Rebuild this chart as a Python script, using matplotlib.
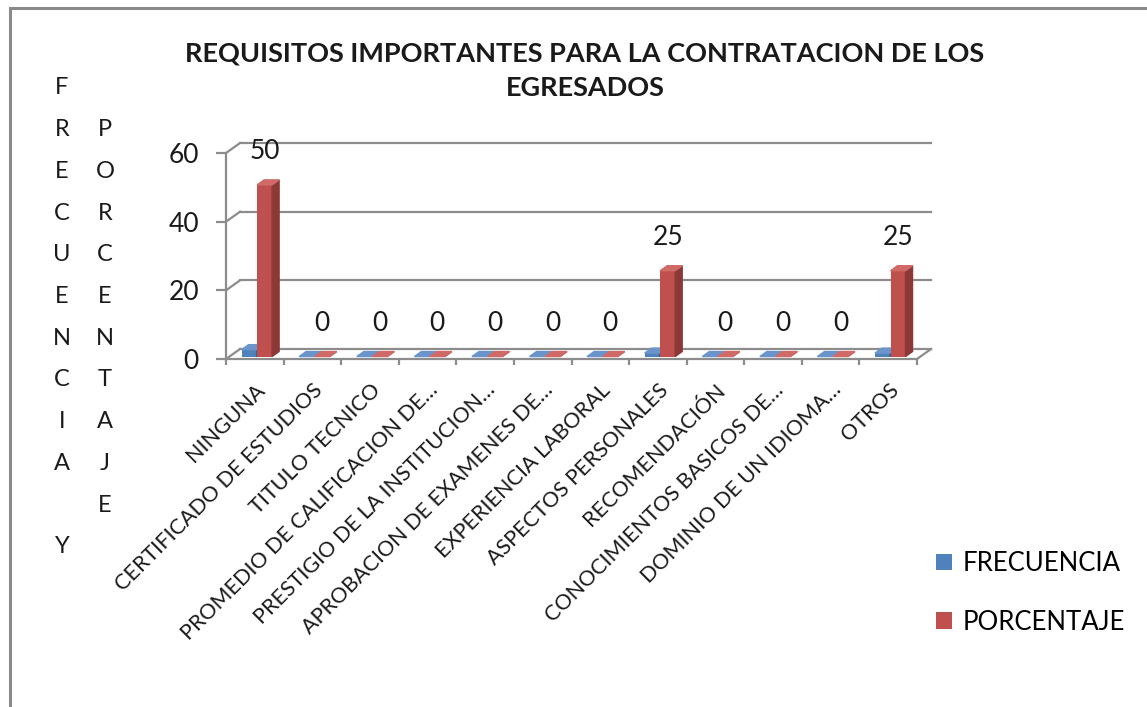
import numpy as np
import matplotlib
matplotlib.use("Agg")
from matplotlib import pyplot
from matplotlib.patches import Polygon, Rectangle

pyplot.rcParams['font.family'] = ['Lato', 'DejaVu Sans']

categories = ["NINGUNA",
              "CERTIFICADO DE ESTUDIOS",
              "TITULO TECNICO",
              "PROMEDIO DE CALIFICACION DE…",
              "PRESTIGIO DE LA INSTITUCION…",
              "APROBACION DE EXAMENES DE…",
              "EXPERIENCIA LABORAL",
              "ASPECTOS PERSONALES",
              "RECOMENDACIÓN",
              "CONOCIMIENTOS BASICOS DE…",
              "DOMINIO DE UN IDIOMA…",
              "OTROS"]
frecuencia = [2, 0, 0, 0, 0, 0, 0, 1, 0, 0, 0, 1]
porcentaje = [50, 0, 0, 0, 0, 0, 0, 25, 0, 0, 0, 25]
series_names = ["FRECUENCIA", "PORCENTAJE"]
yticks = [0, 20, 40, 60]

title = "REQUISITOS IMPORTANTES PARA LA CONTRATACION DE LOS\nEGRESADOS"

BLUE = "#4F81BD"
BLUE_SIDE = "#385D8A"
BLUE_TOP = "#6A95CC"
RED = "#C0504D"
RED_SIDE = "#8C3836"
RED_TOP = "#CF6A67"
GRID = "#8C8C8C"
TXT = "#1a1a1a"

# fake 3d: depth offset of the back wall in data units
DX = 0.243
DY = 2.9
D0, D1 = 0.25, 0.75  # bar front / back depth fraction
BAR_W = 0.26

W, H = 1147, 707
fig = pyplot.figure(figsize=(W / 100, H / 100), dpi=100)
ax = fig.add_axes([226 / W, (H - 359) / H, (917 - 226) / W, (359 - 153) / H])
ax.set_xlim(0, len(categories))
ax.set_ylim(0, 60)

n = len(categories)
x = np.arange(n)

# back wall gridlines + side diagonals
for v in yticks:
    ax.plot([DX, n + DX], [v + DY, v + DY], color=GRID, lw=1.6, clip_on=False, zorder=1)
    ax.plot([0, DX], [v, v + DY], color=GRID, lw=1.6, clip_on=False, zorder=1)
# floor right edge
ax.plot([n, n + DX], [0, DY], color=GRID, lw=1.6, clip_on=False, zorder=1)


def draw_bars(left, vals, face, side, top, label):
    x0 = left + D0 * DX
    y0 = D0 * DY
    bars = ax.bar(x0, vals, width=BAR_W, bottom=y0, align="edge", color=face,
                  label=label, zorder=3, clip_on=False)
    ddx = (D1 - D0) * DX
    ddy = (D1 - D0) * DY
    for xi, v in zip(x0, vals):
        yt = y0 + v
        ax.add_patch(Polygon([(xi + BAR_W, y0), (xi + BAR_W + ddx, y0 + ddy),
                              (xi + BAR_W + ddx, yt + ddy), (xi + BAR_W, yt)],
                             closed=True, color=side, zorder=3, clip_on=False))
        ax.add_patch(Polygon([(xi, yt), (xi + BAR_W, yt), (xi + BAR_W + ddx, yt + ddy),
                              (xi + ddx, yt + ddy)],
                             closed=True, color=top, zorder=3, clip_on=False))
    return bars


draw_bars(x + 0.21, frecuencia, BLUE, BLUE_SIDE, BLUE_TOP, series_names[0])
draw_bars(x + 0.48, porcentaje, RED, RED_SIDE, RED_TOP, series_names[1])

# data labels for percentage
for xi, v in zip(x + 0.48 + BAR_W / 2 + D0 * DX, porcentaje):
    ax.annotate(str(v), xy=(xi, v + D0 * DY), xytext=(0, 24), textcoords="offset points",
                ha="center", va="center", fontsize=19, color=TXT, annotation_clip=False)

for s in ["top", "right"]:
    ax.spines[s].set_visible(False)
for s in ["left", "bottom"]:
    ax.spines[s].set_color(GRID)
    ax.spines[s].set_linewidth(1.6)

ax.set_yticks(yticks)
ax.tick_params(axis="y", length=7.5, width=1.6, color=GRID, labelsize=19, labelcolor=TXT, pad=12)
ax.set_xticks(np.arange(n + 1))
ax.set_xticklabels([])
ax.tick_params(axis="x", which="major", length=4.5, width=1.6, color=GRID)
ax.set_xticks(x + 0.5, minor=True)
ax.set_xticklabels(categories, minor=True, rotation=45, ha="right", va="top",
                   rotation_mode="anchor", fontsize=15.5, color=TXT)
ax.tick_params(axis="x", which="minor", length=0, pad=15)

fig.text(585 / W, 1 - 71 / H, title, ha="center", va="center", fontsize=19.5,
         fontweight="bold", color=TXT, linespacing=1.55)

# stacked axis title letters
step = 41.7
for k, ch in enumerate("FRECUENCIA Y"):
    fig.text(62 / W, 1 - (88 + k * step) / H, ch, ha="center", va="center", fontsize=17, color=TXT)
for k, ch in enumerate("PORCENTAJE"):
    fig.text(105 / W, 1 - (88 + (k + 1) * step) / H, ch, ha="center", va="center", fontsize=17, color=TXT)

fig.legend(loc="upper left", bbox_to_anchor=(913 / W, 1 - 528 / H), frameon=False,
           fontsize=18.5, handlelength=0.6, handleheight=0.6, labelspacing=1.3, handletextpad=0.45)

# chart border
fig.patches.append(Rectangle((9.5 / W, -0.1), 1.2, 1 - 7.5 / H + 0.1, transform=fig.transFigure,
                             fill=False, edgecolor="#8a8a8a", lw=2.2))

fig.savefig("out.png", dpi=100)
